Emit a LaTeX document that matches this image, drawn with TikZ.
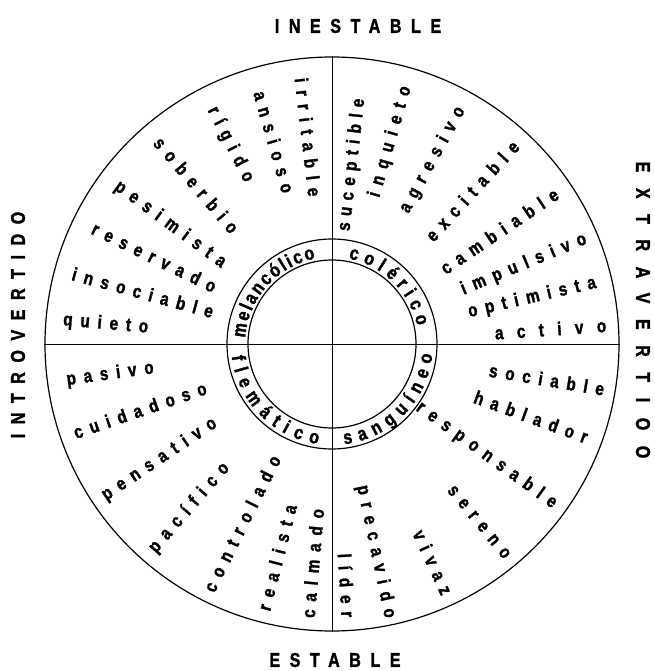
\documentclass[tikz,border=0pt]{standalone}
\usepackage{fontspec}
\newfontfamily\wordfont{Liberation Sans}[UprightFont=* Bold,FakeBold=1.6,FakeStretch=0.82,LetterSpace=42]
\newfontfamily\ringfont{Liberation Sans}[UprightFont=* Bold,FakeBold=1.6,FakeStretch=0.82]
\newfontfamily\titlefont{Liberation Sans}[UprightFont=* Bold,FakeBold=1.6,FakeStretch=0.8,LetterSpace=48]
\newfontfamily\titlefontw{Liberation Sans}[UprightFont=* Bold,FakeBold=1.6,FakeStretch=0.8,LetterSpace=78]
\usetikzlibrary{decorations.text}

\begin{document}
\begin{tikzpicture}[x=0.75pt, y=0.75pt,
  word/.style={inner sep=0pt, font=\wordfont\fontsize{14}{16}\selectfont},
  wr/.style={word, anchor=east, rotate=#1},
  wl/.style={word, anchor=west, rotate=#1-180},
  circ/.style={draw, circle, inner sep=0pt, line width=0.9pt},
  ttl/.style={inner sep=0pt, font=\titlefont\fontsize{15}{17}\selectfont},
  ringtext/.style={decorate, decoration={text along path, text align={fit to path},
              text={|\ringfont\fontsize{14.5}{16}\selectfont|#1}}}
]
\useasboundingbox (-332,-327) rectangle (323,344);
\node[circ, minimum size=430.5pt] (outer) at (0,0) {};
\node[circ, minimum size=157.5pt] (ringout) at (0,0) {};
\node[circ, minimum size=126pt] (ringin) at (0,0) {};
\draw[line width=0.6pt] (outer.north) -- (outer.south);
\draw[line width=0.6pt] (outer.west) -- (outer.east);

\foreach \a/\r/\w/\n in {83.6/247/{\addfontfeature{LetterSpace=34}suceptible}/sucep,
    73.9/268/inquieto/inqui, 61.3/269/agresivo/agres, 47.5/272/excitable/excit,
    34/271/cambiable/cambi, 22.5/275/impulsivo/impul, 13/271/optimista/optim,
    3.9/275/{\addfontfeature{LetterSpace=72}activo}/activ,
    -9.4/276/sociable/socia, -20.1/272/hablador/habla, -35.8/275/responsable/respo,
    -50.5/276/sereno/seren, -65.2/275/vivaz/vivaz, -78.1/280/precavido/preca,
    -86.6/274/líder/lider}
  \node[wr=\a] (\n) at (\a:\r) {\w};

\foreach \a/\r/\w/\n in {96.6/268/irritable/irrit, 106/263/ansioso/ansio,
    117/265/rígido/rigid, 130.5/269/soberbio/sober, 143.6/268/pesimista/pesim,
    154/266/reservado/reser, 164.8/269/insociable/insoc, 175/270/quieto/quiet,
    187.8/268/pasivo/pasiv, 199/273/cuidadoso/cuida, 213.8/275/pensativo/pensa,
    229/274/pacífico/pacif, 243.4/276/controlado/contr, 255.6/275/realista/reali,
    265/275/calmado/calma}
  \node[wl=\a] (\n) at (\a:\r) {\w};

\path[ringtext=melancólico] (176:87) arc[start angle=176, end angle=101, radius=87];
\path[ringtext=colérico] (79:87) arc[start angle=79, end angle=12, radius=87];
\path[ringtext=flemático] (187:101) arc[start angle=187, end angle=262, radius=101];
\path[ringtext=sanguíneo] (277:101) arc[start angle=277, end angle=354, radius=101];

\node[ttl] (inest) at (26,318) {INESTABLE};
\node[ttl] (estab) at (3,-316) {ESTABLE};
\node[ttl, rotate=90] (intro) at (-314,19) {INTROVERTIDO};
\node[ttl, font=\titlefontw\fontsize{15}{17}\selectfont, rotate=-90] (extra) at (311,34) {EXTRAVERTIOO};
\end{tikzpicture}
\end{document}
